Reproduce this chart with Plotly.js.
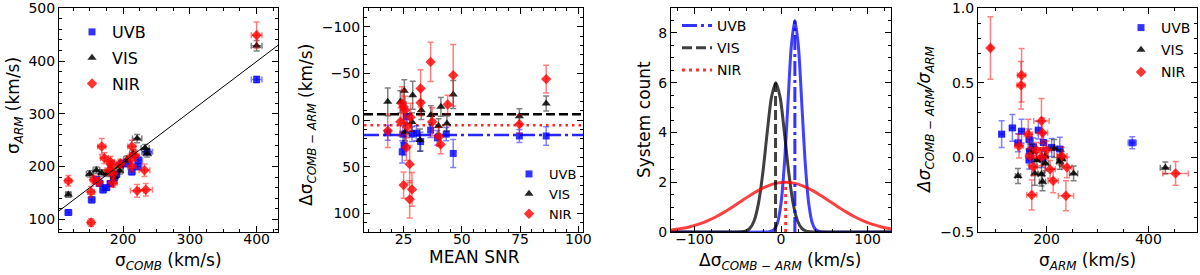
<!DOCTYPE html>
<html><head><meta charset="utf-8">
<script src="https://cdn.plot.ly/plotly-3.0.1.min.js"></script>
<style>html,body{margin:0;padding:0;background:#fff}#c{width:1200px;height:275px}</style>
</head><body><div id="c"></div>
<script>
// ---------- Panel 1: sigma_ARM vs sigma_COMB ----------
const p1UvbComb = [118,153,160,165,170,175,181,186,190,198,207,213,222,223,236,400];
const p1UvbArm  = [113,137,175,168,156,160,168,178,185,206,205,190,200,212,228,365];
const p1UvbCombErr = [5,5,5,5,5,5,5,5,5,5,5,5,6,6,8,8];
const p1UvbArmErr  = [5,6,6,5,6,5,5,6,5,6,5,6,6,6,6,6];
const p1VisComb = [118,150,160,168,176,183,187,195,195,206,215,221,233,236,400];
const p1VisArm  = [147,186,193,188,187,193,180,192,201,214,225,253,235,225,429];
const p1VisCombErr = [4,5,5,5,5,5,5,5,5,5,5,7,6,6,8];
const p1VisArmErr  = [5,6,6,6,6,6,6,6,6,6,7,8,7,7,10];
const p1NirComb = [118,152,152,156,163,168,172,179,181,183,185,185,196,211,213,213,218,221,232,234,400];
const p1NirArm  = [173,94,152,175,171,238,216,193,209,203,187,169,206,216,238,200,221,154,193,156,449];
const p1NirCombErr = [5,5,5,5,5,6,6,6,6,6,6,6,6,6,6,6,6,10,8,10,8];
const p1NirArmErr  = [10,7,10,8,8,15,10,10,10,8,8,8,8,8,12,10,10,12,12,12,25];
const p1FitSlope = [0.957];
const p1FitIntercept = [16.4];

// ---------- Panel 2: delta sigma vs mean SNR ----------
const p2UvbSnr   = [18.2,24.4,25.2,24.7,26.2,28.6,30.5,32.3,36.6,39.5,43.3,46.3,74.7,86.2];
const p2UvbDelta = [13.6,34,27.5,15,-3.6,15,14,23,10.7,19,15,35.7,17,17];
const p2UvbErr   = [8,12,10,9,8,8,8,10,8,8,7,15,7,10];
const p2VisSnr   = [18.2,23.6,25.3,28.9,25.7,28.6,32,32.6,36.7,41,46.3,43.6,40,74.7,86.2];
const p2VisDelta = [-19.6,-19.6,-31.4,-26.8,12.5,2,21.4,-10.7,-5.4,-14.3,-27.5,3.6,6.4,-4.3,-17.9];
const p2VisErr   = [15,12,12,15,10,10,12,10,10,10,15,8,8,8,8];
const p2NirSnr   = [18.2,36.6,46.3,32.3,32.3,24.3,25,25.7,43.9,37.3,23.6,40.2,40.9,26.2,27.6,25,28.6,27.6,26.5,28,74.7,86.2];
const p2NirDelta = [11.4,-62.5,-48.2,-34,-18.6,-17.9,-14.3,-10.7,-16.8,1.8,1.8,17.9,26.1,29.3,47.2,69.7,74.3,85,7,-3,4.3,-44];
const p2NirErr   = [18,21,33,20,14,18,18,15,10,15,15,10,10,14,20,14,18,20,12,15,10,15];
const armNames = ['UVB','VIS','NIR'];
const meanOffset = [16, -6.3, 5.4];   // mean delta per arm (km/s)
const peakCount  = [8.5, 6.0, 2.0];   // peak of fitted distribution

// ---------- Panel 3: distributions ----------
const p3UvbX = [-130,-16,-12,-8,-4,0,4,8,12,16,20,24,28,32,36,40,44,48,130];
const p3UvbY = [0,0.003,0.019,0.094,0.373,1.15,2.76,5.16,7.50,8.50,7.50,5.16,2.76,1.15,0.373,0.094,0.019,0.003,0];
const p3VisX = [-130,-51,-46,-41,-36,-31,-26,-21,-16,-11,-6,-1,4,9,14,19,24,29,34,39,130];
const p3VisY = [0,0,0.008,0.038,0.146,0.454,1.15,2.37,3.97,5.41,6.0,5.41,3.97,2.37,1.15,0.454,0.146,0.038,0.008,0,0];
const p3NirX = [-135,-125,-115,-105,-95,-85,-75,-65,-55,-45,-35,-25,-15,-5,5,15,25,35,45,55,65,75,85,95,105,115,125,135];
const p3NirY = [0.053,0.088,0.139,0.213,0.315,0.447,0.612,0.808,1.028,1.260,1.488,1.693,1.857,1.963,2.0,1.963,1.857,1.693,1.488,1.260,1.028,0.808,0.612,0.447,0.315,0.213,0.139,0.088];

// ---------- Panel 4: fractional delta vs sigma_ARM ----------
const p4UvbArm = [112,133,151,144,166,184,174,210,226,166,192,167,194,368];
const p4UvbRat = [0.156,0.198,0.176,0.098,0.12,0.183,0.071,0.067,0.056,-0.018,-0.007,0.04,0.1,0.098];
const p4UvbArmErr = [5,6,6,6,6,6,6,6,6,6,6,6,6,8];
const p4UvbRatErr = [0.09,0.09,0.08,0.06,0.07,0.06,0.06,0.06,0.08,0.06,0.06,0.05,0.06,0.04];
const p4VisArm = [144,181,177,190,192,226,230,253,197,198,172,215,228,433];
const p4VisRat = [-0.125,-0.018,-0.107,-0.112,-0.163,-0.029,-0.01,-0.107,0.01,-0.04,0.04,0.06,0.0,-0.07];
const p4VisArmErr = [5,6,6,6,6,6,6,8,6,6,6,6,6,10];
const p4VisRatErr = [0.05,0.05,0.08,0.08,0.06,0.05,0.05,0.05,0.05,0.05,0.05,0.06,0.05,0.04];
const p4NirArm = [90,151,150,190,164,192,146,171,238,213,207,240,174,190,167,230,200,180,453];
const p4NirRat = [0.734,0.551,0.484,0.245,0.156,0.165,0.076,-0.252,-0.257,-0.157,-0.08,-0.067,-0.063,0.004,0.009,0.009,0.05,0.05,-0.107];
const p4NirArmErr = [2,8,8,15,8,10,8,10,15,10,10,10,8,10,8,10,10,8,25];
const p4NirRatErr = [0.21,0.18,0.16,0.15,0.1,0.1,0.08,0.1,0.1,0.08,0.06,0.07,0.06,0.06,0.06,0.06,0.06,0.05,0.08];

// ---------- styling ----------
const W = 1200, H = 275, F = 'DejaVu Sans, Arial, sans-serif';
const col  = ['rgba(0,0,255,0.8)','rgba(0,0,0,0.85)','rgba(255,0,0,0.8)'];
const ecol = ['rgba(0,0,255,0.5)','rgba(0,0,0,0.5)','rgba(255,0,0,0.5)'];
const lcol = ['rgba(0,0,255,0.75)','rgba(0,0,0,0.75)','rgba(255,0,0,0.75)'];
const syms = ['square','triangle-up','diamond'];
const sizes = [7,8,8];

function pts(i, x, y, ex, ey, xa, ya, leg, sz){
  const t = {type:'scatter', mode:'markers', x:x, y:y, name:armNames[i], xaxis:xa, yaxis:ya,
    marker:{symbol:syms[i], size:(sz||sizes)[i], color:col[i], line:{width:0}},
    error_y:{type:'data', array:ey, visible:true, color:ecol[i], thickness:1.5, width:3},
    legend:leg, legendgroup:leg+i, showlegend:true, hoverinfo:'skip'};
  if (ex) t.error_x = {type:'data', array:ex, visible:true, color:ecol[i], thickness:1.5, width:3};
  return t;
}

const traces = [];
// Panel 1
traces.push(pts(0,p1UvbComb,p1UvbArm,p1UvbCombErr,p1UvbArmErr,'x','y','legend'));
traces.push(pts(1,p1VisComb,p1VisArm,p1VisCombErr,p1VisArmErr,'x','y','legend'));
traces.push(pts(2,p1NirComb,p1NirArm,p1NirCombErr,p1NirArmErr,'x','y','legend'));
const x1r = [104,432];
traces.push({type:'scatter', mode:'lines', x:x1r, y:x1r.map(v=>p1FitSlope[0]*v+p1FitIntercept[0]),
  xaxis:'x', yaxis:'y', line:{color:'#000', width:1}, showlegend:false, hoverinfo:'skip'});
// Panel 2
const sz2 = [7,8,8];
traces.push(pts(0,p2UvbSnr,p2UvbDelta,null,p2UvbErr,'x2','y2','legend2',sz2));
traces.push(pts(1,p2VisSnr,p2VisDelta,null,p2VisErr,'x2','y2','legend2',sz2));
traces.push(pts(2,p2NirSnr,p2NirDelta,null,p2NirErr,'x2','y2','legend2',sz2));
// Panel 3
const curves = [[p3UvbX,p3UvbY],[p3VisX,p3VisY],[p3NirX,p3NirY]];
curves.forEach((c,i)=>traces.push({type:'scatter', mode:'lines', x:c[0], y:c[1], xaxis:'x3', yaxis:'y3',
  line:{color:lcol[i], width:3, shape:'spline', smoothing:0.8}, showlegend:false, hoverinfo:'skip'}));
const vdash = ['15px,4px,3px,4px','10px,4px','3px,4px'];
const vcol = ['rgba(0,0,255,0.8)','rgba(0,0,0,0.75)','rgba(255,0,0,0.8)'];
[0,1,2].forEach(i=>traces.push({type:'scatter', mode:'lines', name:armNames[i],
  x:[meanOffset[i],meanOffset[i]], y:[0,peakCount[i]], xaxis:'x3', yaxis:'y3',
  line:{color:vcol[i], width:3, dash:vdash[i]}, legend:'legend3', legendgroup:'l3'+i, showlegend:true, hoverinfo:'skip'}));
// Panel 4
traces.push(pts(0,p4UvbArm,p4UvbRat,p4UvbArmErr,p4UvbRatErr,'x4','y4','legend4',sz2));
traces.push(pts(1,p4VisArm,p4VisRat,p4VisArmErr,p4VisRatErr,'x4','y4','legend4',sz2));
traces.push(pts(2,p4NirArm,p4NirRat,p4NirArmErr,p4NirRatErr,'x4','y4','legend4',sz2));

function ax(extra){
  return Object.assign({showline:true, linecolor:'#000', linewidth:1, mirror:'allticks',
    ticks:'inside', ticklen:6, tickwidth:1, tickcolor:'#000', showgrid:false, zeroline:false,
    tickfont:{family:F, size:14, color:'#000'}}, extra);
}
function mn(d){ return {dtick:d, ticks:'inside', ticklen:3, tickwidth:1, tickcolor:'#000', showgrid:false}; }
const yd = [1-232/H, 1-8/H];
const xs = -6;
const layout = {
  width:W, height:H, margin:{l:0,r:0,t:0,b:0}, paper_bgcolor:'#fff', plot_bgcolor:'#fff',
  font:{family:F, color:'#000'},
  xaxis: ax({domain:[59/W,278/W], range:[104,432], dtick:100, tick0:0, anchor:'y', ticklabelstandoff:xs, minor:mn(25)}),
  yaxis: ax({domain:yd, range:[76,500.5], dtick:100, tick0:0, anchor:'x', minor:mn(20)}),
  xaxis2: ax({domain:[364/W,583/W], range:[8,102], dtick:25, tick0:0, anchor:'y2', ticklabelstandoff:xs, minor:mn(5)}),
  yaxis2: ax({domain:yd, range:[120,-120.3], dtick:50, tick0:0, anchor:'x2', minor:mn(10)}),
  xaxis3: ax({domain:[671/W,891/W], range:[-127,127], dtick:100, tick0:0, anchor:'y3', ticklabelstandoff:xs, minor:mn(20)}),
  yaxis3: ax({domain:yd, range:[0,9], dtick:2, tick0:0, anchor:'x3', minor:mn(0.5)}),
  xaxis4: ax({domain:[978/W,1197/W], range:[65.6,495], dtick:200, tick0:0, anchor:'y4', ticklabelstandoff:xs, minor:mn(50)}),
  yaxis4: ax({domain:yd, range:[-0.5,1.002], dtick:0.5, tick0:0, tickformat:'.1f', anchor:'x4', minor:mn(0.1)}),
  shapes: [0,1,2].map(i=>({type:'line', xref:'x2 domain', yref:'y2', x0:0, x1:1, y0:meanOffset[i], y1:meanOffset[i],
    line:{color:['rgba(0,0,255,0.85)','#000','rgba(255,0,0,0.85)'][i], width:2.5, dash:['15px,4px,3px,4px','9px,4px','2.5px,4px'][i]}, layer:'below'})),
  legend: {x:72/W, y:1-15/H, xanchor:'left', yanchor:'top', bgcolor:'rgba(0,0,0,0)', font:{family:F,size:16,color:'#000'}, tracegroupgap:2},
  legend2:{x:509/W, y:1-159/H, xanchor:'left', yanchor:'top', bgcolor:'rgba(0,0,0,0)', font:{family:F,size:13,color:'#000'}, tracegroupgap:0},
  legend3:{x:677/W, y:1-10/H, xanchor:'left', yanchor:'top', bgcolor:'rgba(0,0,0,0)', font:{family:F,size:14,color:'#000'}, tracegroupgap:1},
  legend4:{x:1121/W, y:1-12/H, xanchor:'left', yanchor:'top', bgcolor:'rgba(0,0,0,0)', font:{family:F,size:14,color:'#000'}, tracegroupgap:1},
  annotations: []
};
function ann(text, px, py, angle){
  return {text:text, x:px/W, y:1-py/H, xref:'paper', yref:'paper', showarrow:false, textangle:angle||0,
    xanchor:'center', yanchor:'middle', font:{family:F, size:17, color:'#000'}};
}
const dS = 'Δσ<sub><i>COMB − ARM</i></sub>';
layout.annotations.push(ann('σ<sub><i>COMB</i></sub> (km/s)', 168, 261));
layout.annotations.push(ann('σ<sub><i>ARM</i></sub> (km/s)', 14, 106, -90));
layout.annotations.push(ann('MEAN SNR', 474, 257));
layout.annotations.push(ann(dS + ' (km/s)', 307, 125, -90));
layout.annotations.push(ann(dS + ' (km/s)', 780, 261));
layout.annotations.push(ann('System count', 644, 120, -90));
layout.annotations.push(ann('σ<sub><i>ARM</i></sub> (km/s)', 1087, 261));
layout.annotations.push(ann('<i>Δσ<sub>COMB − ARM</sub>/σ<sub>ARM</sub></i>', 926, 120, -90));

Plotly.newPlot('c', traces, layout, {staticPlot:true, displayModeBar:false});
</script></body></html>
